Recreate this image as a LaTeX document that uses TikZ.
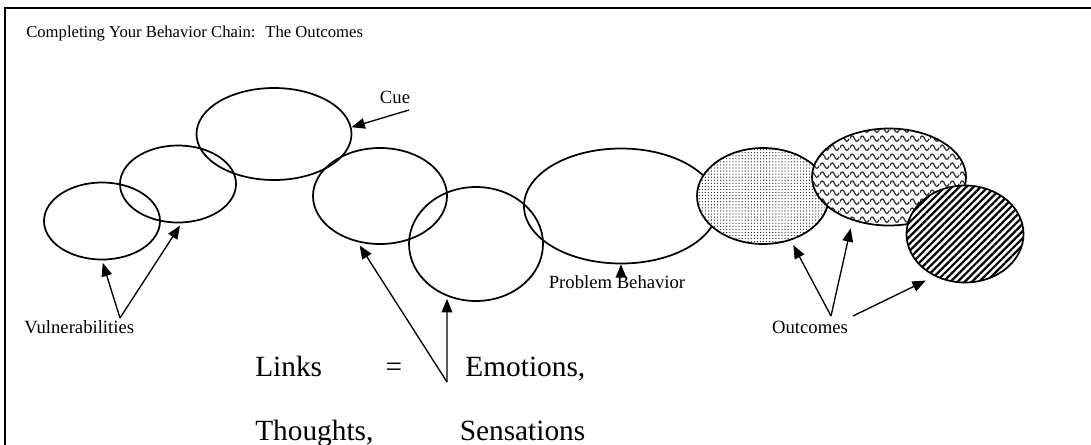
\documentclass[tikz,border=0pt]{standalone}
\usepackage{fontspec}
\setmainfont{Liberation Serif}
\usetikzlibrary{shapes.geometric,patterns,patterns.meta,arrows.meta}

\pgfdeclarepatternformonly{wavy}{\pgfqpoint{0pt}{0pt}}{\pgfqpoint{7.5pt}{6.6pt}}{\pgfqpoint{7.5pt}{6.6pt}}{%
  \pgfsetlinewidth{1pt}%
  \pgfpathmoveto{\pgfqpoint{0pt}{3.3pt}}%
  \pgfpathcurveto{\pgfqpoint{1.1pt}{6pt}}{\pgfqpoint{2.65pt}{6pt}}{\pgfqpoint{3.75pt}{3.3pt}}%
  \pgfpathcurveto{\pgfqpoint{4.85pt}{0.6pt}}{\pgfqpoint{6.4pt}{0.6pt}}{\pgfqpoint{7.5pt}{3.3pt}}%
  \pgfusepath{stroke}}

\tikzset{
  chainlink/.style={ellipse,draw,line width=1.3pt,inner sep=0pt},
  lbl/.style={font=\fontsize{14}{16}\selectfont,inner sep=0pt},
  arr/.style={-{Triangle[length=10pt,width=8pt]},line width=1pt},
}

\begin{document}
\begin{tikzpicture}[x=0.75pt,y=-0.75pt]
\useasboundingbox (0,0) rectangle (1091,444);
\clip (0,0) rectangle (1091,444);
\draw[line width=1.3pt] (5,470) -- (5,8) -- (1100,8);

\node[font=\fontsize{12.5}{14}\selectfont,inner sep=0pt,anchor=west] (title) at (26,34) {Completing Your Behavior Chain:~ The Outcomes};

\node[chainlink,minimum width=87pt,minimum height=57.75pt] (vuln1) at (102,221) {};
\node[chainlink,minimum width=87pt,minimum height=57.75pt] (vuln2) at (178,184) {};
\node[chainlink,minimum width=116.25pt,minimum height=69pt] (cue) at (274,134) {};
\node[chainlink,minimum width=100.5pt,minimum height=72pt] (link1) at (380,196) {};
\node[chainlink,minimum width=100.5pt,minimum height=85.5pt] (link2) at (476,244) {};
\node[chainlink,minimum width=145.5pt,minimum height=86.25pt] (prob) at (621,206) {};
\node[chainlink,minimum width=99pt,minimum height=72pt,preaction={fill=white},pattern={Dots[distance=2.3pt,radius=0.5pt]},pattern color=black!80] (out1) at (763,196) {};
\node[chainlink,minimum width=115.5pt,minimum height=72.75pt,preaction={fill=white},pattern=wavy,pattern color=black!80] (out2) at (889,177) {};
\node[chainlink,minimum width=87.75pt,minimum height=72.75pt,preaction={fill=white},pattern={Lines[angle=45,distance=3.8pt,line width=1.7pt]}] (out3) at (965,234) {};

\node[lbl] (cuelbl) at (395,97) {Cue};
\node[lbl,anchor=west] (vulnlbl) at (24,327) {Vulnerabilities};
\node[lbl] (problbl) at (617,282) {Problem Behavior};
\node[lbl] (outlbl) at (810,327) {Outcomes};
\node[anchor=north west,text width=247.5pt,align=justify,inner sep=0pt,font=\fontsize{22}{48}\selectfont] (links) at (255,356) {\parfillskip=0pt Links = Emotions,\linebreak Thoughts, Sensations\par};

\coordinate (vjoin) at (120,318);
\coordinate (cuetail) at (409,110);
\coordinate (ljoin) at (447,382);
\coordinate (ojoin) at (831,316);
\coordinate (otail) at (853,316);

\draw[arr,shorten >=2pt] (vjoin) -- (vuln1.south);
\draw[arr,shorten >=2pt] (vjoin) -- (vuln2.-85);
\draw[arr] (cuetail) -- (cue.5);
\draw[arr,shorten >=3pt] (ljoin) -- (link1.-116);
\draw[arr,shorten >=2pt] (ljoin) -- (link2.-119);
\draw[arr] (prob.south |- problbl.north) -- (prob.south);
\draw[arr,shorten >=4pt] (ojoin) -- (out1.-58);
\draw[arr,shorten >=6pt] (ojoin) -- (out2.-130);
\draw[arr,shorten >=7pt] (otail) -- (out3.-126);
\end{tikzpicture}
\end{document}
